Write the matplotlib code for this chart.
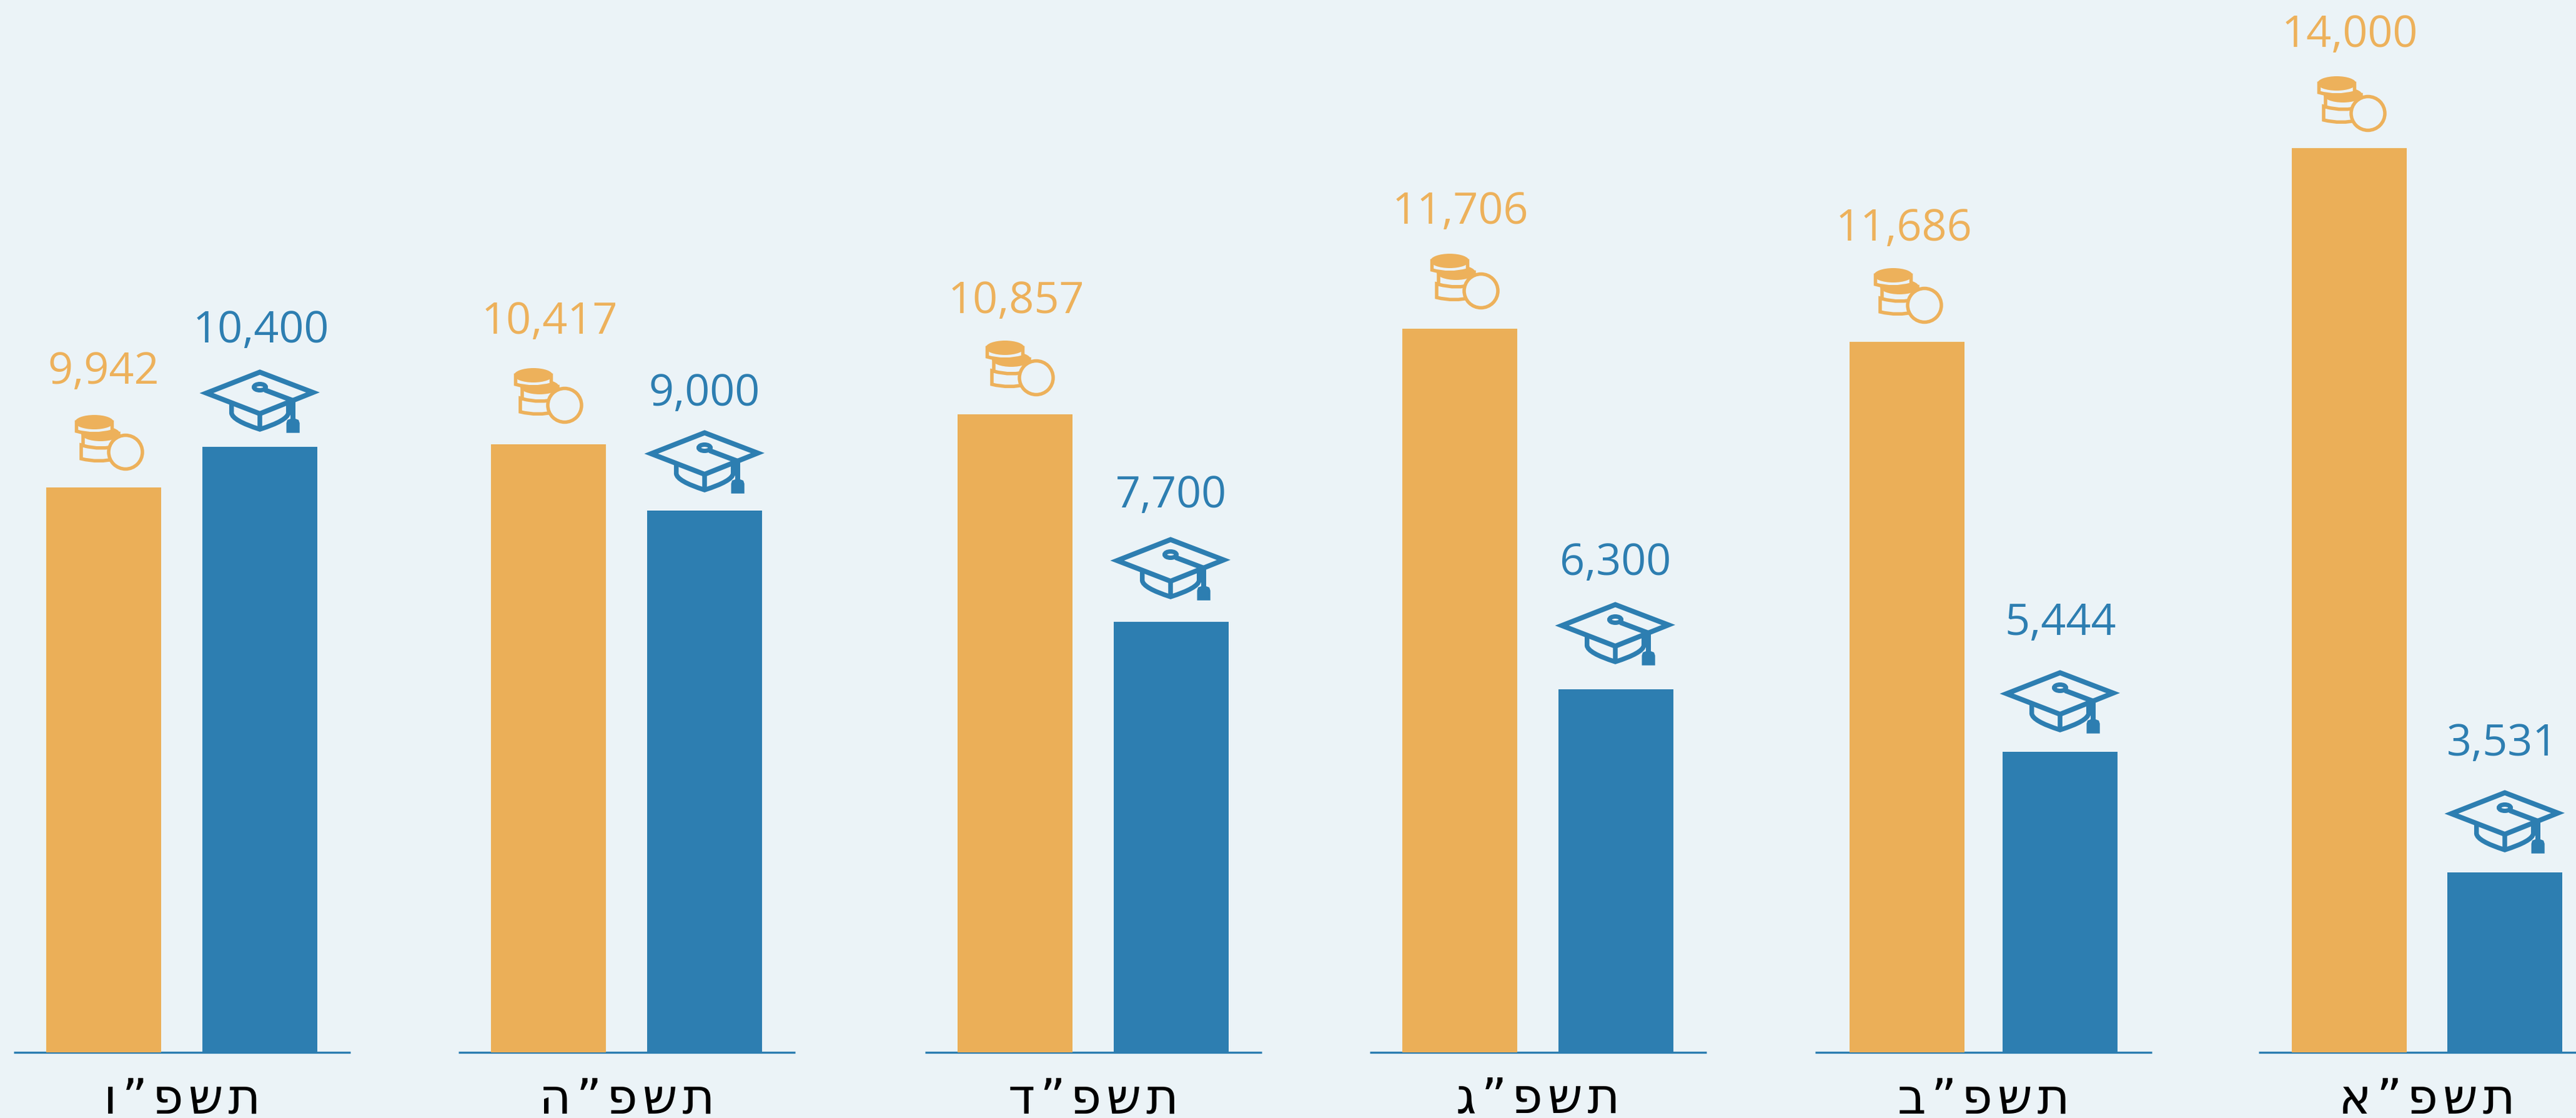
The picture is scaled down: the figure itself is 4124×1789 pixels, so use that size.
import matplotlib
matplotlib.use('Agg')
import matplotlib.pyplot as plt
from matplotlib.patches import Ellipse, PathPatch, Polygon
from matplotlib.path import Path

BG = '#EBF3F7'
ORANGE = '#EBAF58'
ORANGE_TEXT = '#EDB15B'
BLUE = '#2D7EB1'

# left to right, as in the picture
years = ['תשפ”ו', 'תשפ”ה', 'תשפ”ד', 'תשפ”ג', 'תשפ”ב', 'תשפ”א']
orange_values = [9942, 10417, 10857, 11706, 11686, 14000]
blue_values = [10400, 9000, 7700, 6300, 5444, 3531]

# the bars are not drawn to scale with their labels, so the drawn heights are read separately
orange_heights = [904, 973, 1021, 1158, 1137, 1447]
blue_heights = [969, 867, 689, 581, 481, 288]

orange_x = [74, 786, 1533, 2245, 2961, 3669]
blue_x = [324, 1036, 1783, 2495, 3206, 3918]
bar_w = 184

# distance from bar top to the number's baseline, and small sideways nudges
orange_rise = [167, 178, 163, 169, 163, 163]
blue_rise = [168, 169, 184, 184, 188, 188]
orange_nudge = [0, 2, 2, 1, -5, 1]
blue_nudge = [2, 0, 0, -1, 1, -4]

coin_x = [120, 823, 1578, 2290, 3000, 3710]
coin_gap = [27, 33, 29, 31, 29, 26]
hat_x = [320, 1032, 1778, 2490, 3202, 3914]
hat_gap = [22, 27, 34, 38, 29, 30]

line_x = [22, 734, 1481, 2193, 2906, 3616]
line_w = 539

W, H = 4124, 1790
BASE = 1685
PX = 0.72  # one pixel in points at dpi 100

fig = plt.figure(figsize=(W / 100, H / 100), dpi=100, facecolor=BG)
ax = fig.add_axes([0, 0, 1, 1])
ax.set_xlim(0, W)
ax.set_ylim(BASE - H, BASE)  # y is height above the base line, in picture pixels
ax.axis('off')


def coin_body(x0, y0, xl, xr, yt, yb, sag):
    mid = (xl + xr) / 2
    pts = [(xl, yt), (xl, yb), (mid, yb + 2 * sag), (xr, yb), (xr, yt), (mid, yt + 2 * sag), (xl, yt), (xl, yt)]
    codes = [Path.MOVETO, Path.LINETO, Path.CURVE3, Path.CURVE3, Path.LINETO, Path.CURVE3, Path.CURVE3, Path.CLOSEPOLY]
    pts = [(x0 + a, y0 - b) for a, b in pts]
    ax.add_patch(PathPatch(Path(pts, codes), facecolor=BG, edgecolor=ORANGE_TEXT, lw=5.5 * PX, zorder=3))


def draw_coins(x0, y0):
    # x0, y0 = top left corner of the icon
    coin_body(x0, y0, 10, 66, 48, 70, 3.5)
    coin_body(x0, y0, 13, 70, 30, 49, 4)
    ax.add_patch(Ellipse((x0 + 41, y0 - 30), 62, 24, facecolor=ORANGE_TEXT, edgecolor='none', zorder=3))
    coin_body(x0, y0, 2.5, 59.5, 12, 26, 4)
    ax.add_patch(Ellipse((x0 + 31, y0 - 11.5), 62, 23, facecolor=ORANGE_TEXT, edgecolor='none', zorder=3))
    ax.add_patch(Ellipse((x0 + 81, y0 - 59.5), 54, 54, facecolor=BG, edgecolor=ORANGE_TEXT, lw=5.5 * PX, zorder=3))


def draw_hat(x0, y0):
    def p(a, b):
        return (x0 + a, y0 - b)
    # cap below the board
    cap = [p(50.7, 54), p(50.7, 70), p(52, 82), p(96, 96), p(140, 82), p(141.7, 70), p(141.7, 54)]
    codes = [Path.MOVETO, Path.LINETO, Path.CURVE3, Path.CURVE3, Path.CURVE3, Path.CURVE3, Path.LINETO]
    ax.add_patch(PathPatch(Path(cap, codes), facecolor='none', edgecolor=BLUE, lw=7.5 * PX, zorder=3))
    ax.plot(*zip(p(96, 71), p(96, 96)), color=BLUE, lw=7.5 * PX, zorder=3, solid_capstyle='butt')
    # board
    board = [p(96, 4.5), p(181, 37), p(96, 71), p(10.5, 38)]
    ax.add_patch(Polygon(board, closed=True, facecolor='none', edgecolor=BLUE, lw=8 * PX,
                         joinstyle='miter', zorder=3))
    # button and cord
    ax.add_patch(Ellipse(p(96, 28.5), 19, 10, facecolor='none', edgecolor=BLUE, lw=7 * PX, zorder=3))
    ax.plot(*zip(p(104, 33), p(149, 50), p(149, 82)), color=BLUE, lw=8 * PX, zorder=3,
            solid_joinstyle='miter', solid_capstyle='butt')
    # tassel
    tassel = [p(138.5, 101.7), p(138.5, 86), p(140, 81), p(149, 77.5), p(158, 81), p(159.7, 86), p(159.7, 101.7)]
    ax.add_patch(Polygon(tassel, closed=True, facecolor=BLUE, edgecolor='none', zorder=3))


for i in range(len(years)):
    ax.plot([line_x[i], line_x[i] + line_w], [0, 0], color=BLUE, lw=3.4 * PX, zorder=1, solid_capstyle='butt')

ax.bar(orange_x, orange_heights, width=bar_w, align='edge', color=ORANGE, zorder=2)
ax.bar(blue_x, blue_heights, width=bar_w, align='edge', color=BLUE, zorder=2)

for i in range(len(years)):
    ax.text(orange_x[i] + bar_w / 2 + orange_nudge[i], orange_heights[i] + orange_rise[i],
            f'{orange_values[i]:,}', color=ORANGE_TEXT, fontsize=50.5, family='Open Sans',
            ha='center', va='baseline', zorder=4)
    ax.text(blue_x[i] + bar_w / 2 + blue_nudge[i], blue_heights[i] + blue_rise[i],
            f'{blue_values[i]:,}', color=BLUE, fontsize=50.5, family='Open Sans',
            ha='center', va='baseline', zorder=4)
    draw_coins(coin_x[i], orange_heights[i] + coin_gap[i] + 89)
    draw_hat(hat_x[i], blue_heights[i] + hat_gap[i] + 102)
    # matplotlib has no bidi, so the Hebrew goes in reversed; hair spaces for the wider setting
    ax.text(line_x[i] + line_w / 2, BASE - 1781, '\u200a'.join(years[i][::-1]), color='black', fontsize=57,
            family='DejaVu Sans', ha='center', va='baseline', zorder=4)

fig.savefig('out.png', dpi=100, facecolor=BG)
